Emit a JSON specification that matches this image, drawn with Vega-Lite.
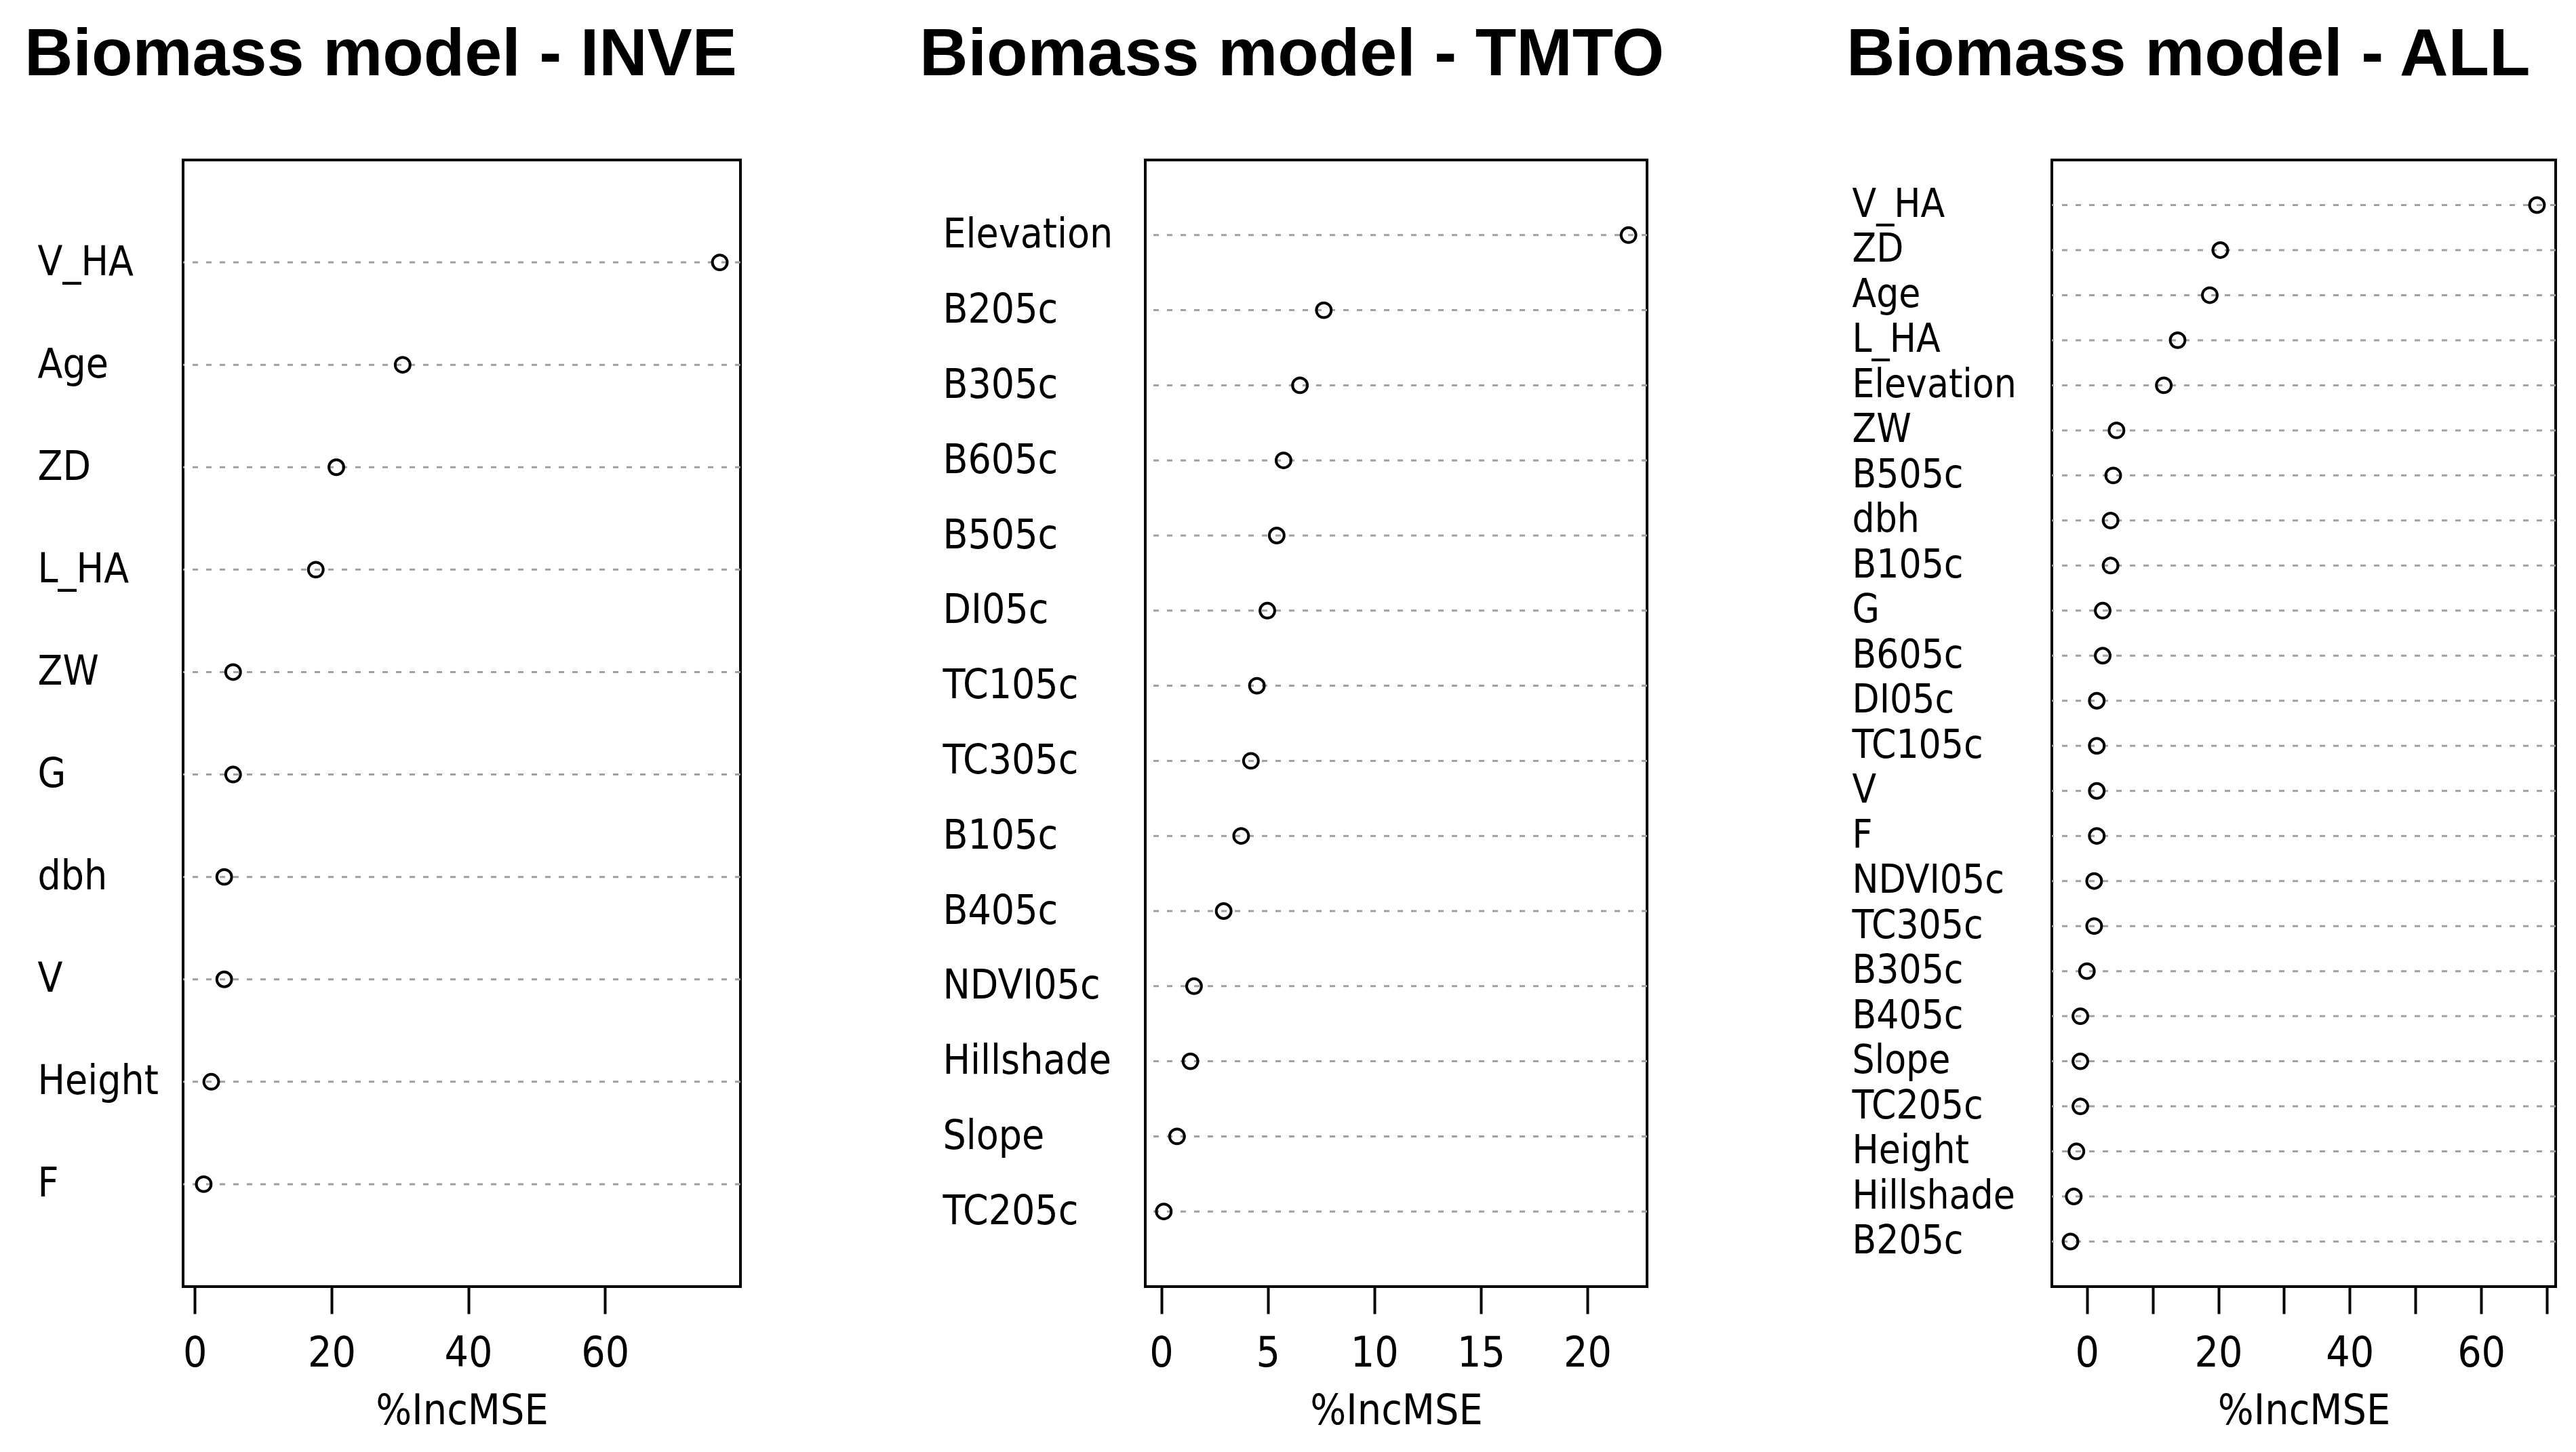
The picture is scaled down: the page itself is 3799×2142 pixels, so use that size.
{
  "$schema": "https://vega.github.io/schema/vega-lite/v6.json",
  "background": "white",
  "padding": {"left": 34, "top": 30, "right": 0, "bottom": 0},
  "bounds": "flush",
  "spacing": 597,
  "datasets": {
    "inve": [
      {"var": "V_HA", "value": 76.8},
      {"var": "Age", "value": 30.4},
      {"var": "ZD", "value": 20.7},
      {"var": "L_HA", "value": 17.7},
      {"var": "ZW", "value": 5.6},
      {"var": "G", "value": 5.6},
      {"var": "dbh", "value": 4.3},
      {"var": "V", "value": 4.3},
      {"var": "Height", "value": 2.4},
      {"var": "F", "value": 1.3}
    ],
    "tmto": [
      {"var": "Elevation", "value": 21.93},
      {"var": "B205c", "value": 7.63},
      {"var": "B305c", "value": 6.51},
      {"var": "B605c", "value": 5.74},
      {"var": "B505c", "value": 5.42},
      {"var": "DI05c", "value": 4.98},
      {"var": "TC105c", "value": 4.49},
      {"var": "TC305c", "value": 4.21},
      {"var": "B105c", "value": 3.75},
      {"var": "B405c", "value": 2.93},
      {"var": "NDVI05c", "value": 1.54},
      {"var": "Hillshade", "value": 1.37},
      {"var": "Slope", "value": 0.74},
      {"var": "TC205c", "value": 0.12}
    ],
    "all": [
      {"var": "V_HA", "value": 68.5},
      {"var": "ZD", "value": 20.3},
      {"var": "Age", "value": 18.7},
      {"var": "L_HA", "value": 13.8},
      {"var": "Elevation", "value": 11.7},
      {"var": "ZW", "value": 4.5},
      {"var": "B505c", "value": 4.0},
      {"var": "dbh", "value": 3.6},
      {"var": "B105c", "value": 3.6},
      {"var": "G", "value": 2.4},
      {"var": "B605c", "value": 2.4},
      {"var": "DI05c", "value": 1.5},
      {"var": "TC105c", "value": 1.5},
      {"var": "V", "value": 1.5},
      {"var": "F", "value": 1.5},
      {"var": "NDVI05c", "value": 1.1},
      {"var": "TC305c", "value": 1.1},
      {"var": "B305c", "value": 0.0},
      {"var": "B405c", "value": -1.0},
      {"var": "Slope", "value": -1.0},
      {"var": "TC205c", "value": -1.0},
      {"var": "Height", "value": -1.6},
      {"var": "Hillshade", "value": -2.0},
      {"var": "B205c", "value": -2.5}
    ]
  },
  "config": {
    "view": {"stroke": "black", "strokeWidth": 4},
    "title": {"font": "Liberation Sans", "fontSize": 99, "fontWeight": "bold", "color": "black", "anchor": "start", "frame": "group", "baseline": "alphabetic", "offset": 104},
    "axis": {"labelFont": "DejaVu Sans Condensed, Liberation Sans", "titleFont": "DejaVu Sans Condensed, Liberation Sans", "labelColor": "black", "titleColor": "black", "labelLimit": 0, "labelOverlap": false, "grid": false}
  },
  "hconcat": [
    {
      "width": 822,
      "height": 1662,
      "title": {"text": "Biomass model - INVE", "dx": -234},
      "data": {"name": "inve"},
      "encoding": {
        "y": {"field": "var", "type": "nominal", "sort": null, "scale": {"type": "point", "padding": 1},
          "axis": {"title": null, "ticks": false, "tickSize": 0, "domain": false, "labelAlign": "left", "labelBaseline": "middle", "labelPadding": 215, "labelFontSize": 60}}
      },
      "layer": [
        {"mark": {"type": "rule", "color": "#a0a0a0", "strokeWidth": 3, "strokeDash": [8, 12]}},
        {"mark": {"type": "point", "shape": "circle", "filled": false, "color": "black", "strokeWidth": 4, "size": 480, "opacity": 1},
          "encoding": {"x": {"field": "value", "type": "quantitative", "scale": {"domain": [-1.72, 79.82], "nice": false, "zero": false},
            "axis": {"title": "%IncMSE", "values": [0, 20, 40, 60], "domain": false, "ticks": true, "tickSize": 40, "tickWidth": 4, "tickColor": "black", "labelFontSize": 62, "labelPadding": 28, "titleFontSize": 62, "titleFontWeight": "normal", "titlePadding": 24, "labelFlush": false}}}}
      ]
    },
    {
      "width": 740,
      "height": 1662,
      "title": {"text": "Biomass model - TMTO", "dx": -333},
      "data": {"name": "tmto"},
      "encoding": {
        "y": {"field": "var", "type": "nominal", "sort": null, "scale": {"type": "point", "padding": 1},
          "axis": {"title": null, "ticks": false, "tickSize": 0, "domain": false, "labelAlign": "left", "labelBaseline": "middle", "labelPadding": 299, "labelFontSize": 60}}
      },
      "layer": [
        {"mark": {"type": "rule", "color": "#a0a0a0", "strokeWidth": 3, "strokeDash": [8, 12]}},
        {"mark": {"type": "point", "shape": "circle", "filled": false, "color": "black", "strokeWidth": 4, "size": 480, "opacity": 1},
          "encoding": {"x": {"field": "value", "type": "quantitative", "scale": {"domain": [-0.75, 22.8], "nice": false, "zero": false},
            "axis": {"title": "%IncMSE", "values": [0, 5, 10, 15, 20], "domain": false, "ticks": true, "tickSize": 40, "tickWidth": 4, "tickColor": "black", "labelFontSize": 62, "labelPadding": 28, "titleFontSize": 62, "titleFontWeight": "normal", "titlePadding": 24, "labelFlush": false}}}}
      ]
    },
    {
      "width": 743,
      "height": 1662,
      "title": {"text": "Biomass model - ALL", "dx": -303},
      "data": {"name": "all"},
      "encoding": {
        "y": {"field": "var", "type": "nominal", "sort": null, "scale": {"type": "point", "padding": 1},
          "axis": {"title": null, "ticks": false, "tickSize": 0, "domain": false, "labelAlign": "left", "labelBaseline": "middle", "labelPadding": 295, "labelFontSize": 58}}
      },
      "layer": [
        {"mark": {"type": "rule", "color": "#a0a0a0", "strokeWidth": 3, "strokeDash": [8, 12]}},
        {"mark": {"type": "point", "shape": "circle", "filled": false, "color": "black", "strokeWidth": 4, "size": 480, "opacity": 1},
          "encoding": {"x": {"field": "value", "type": "quantitative", "scale": {"domain": [-5.34, 71.34], "nice": false, "zero": false},
            "axis": {"title": "%IncMSE", "values": [0, 10, 20, 30, 40, 50, 60, 70], "labelExpr": "datum.value % 20 === 0 ? datum.label : ''", "domain": false, "ticks": true, "tickSize": 40, "tickWidth": 4, "tickColor": "black", "labelFontSize": 62, "labelPadding": 28, "titleFontSize": 62, "titleFontWeight": "normal", "titlePadding": 24, "labelFlush": false}}}}
      ]
    }
  ]
}
